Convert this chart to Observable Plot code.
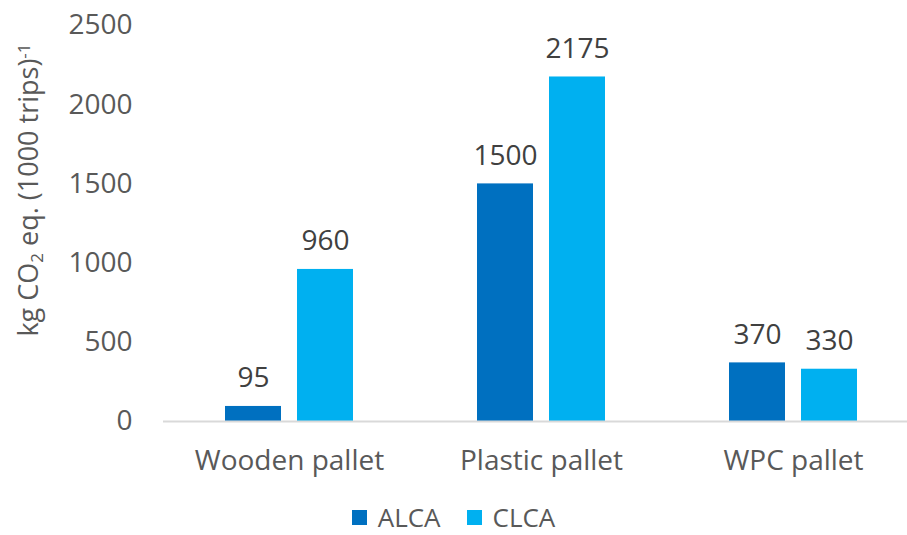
<!DOCTYPE html>
<html>
<head>
<meta charset="utf-8">
<script src="https://cdn.jsdelivr.net/npm/d3@7"></script>
<script src="https://cdn.jsdelivr.net/npm/@observablehq/plot@0.6"></script>
<style>
  html, body { margin: 0; padding: 0; background: #fff; overflow: hidden; }
  #chart { width: 907px; height: 535px; position: relative; font-family: "Open Sans", sans-serif; color: #595959; }
  .legend { position: absolute; left: 0; width: 907px; top: 502px; height: 30px; display: flex; justify-content: center; align-items: center; font-size: 26px; line-height: 30px; }
  .legend .item { display: flex; align-items: center; margin: 0 13px; }
  .legend .sw { width: 15px; height: 15px; margin-right: 11px; }
</style>
</head>
<body>
<div id="chart"></div>
<script>
// Greenhouse-gas emissions per 1000 pallet trips, by pallet type and LCA approach
const categories = ["Wooden pallet", "Plastic pallet", "WPC pallet"];
const series = ["ALCA", "CLCA"];
const alcaValues = [95, 1500, 370];
const clcaValues = [960, 2175, 330];
const yTicks = [0, 500, 1000, 1500, 2000, 2500];
const colors = ["#0070C0", "#00B0F0"];

const rows = categories.flatMap((c, i) => [
  {category: c, series: "ALCA", value: alcaValues[i]},
  {category: c, series: "CLCA", value: clcaValues[i]}
]);
// the two bars of a group sit either side of the category centre
const offsets = {ALCA: -36, CLCA: 36};

const marks = [];
for (const s of series) {
  const d = rows.filter(r => r.series === s);
  marks.push(Plot.barY(d, {x: "category", y: "value", fill: colors[series.indexOf(s)], dx: offsets[s]}));
  marks.push(Plot.text(d, {x: "category", y: "value", text: d => String(d.value), dx: offsets[s], dy: -19, lineAnchor: "bottom", fontSize: 28, fill: "#404040"}));
}
marks.push(Plot.ruleY([0], {stroke: "#d9d9d9", strokeWidth: 2}));

const plot = Plot.plot({
  width: 907,
  height: 490,
  marginTop: 25,
  marginBottom: 69,
  marginLeft: 163,
  marginRight: 0,
  style: {fontFamily: "Open Sans, sans-serif", fontSize: "28px", color: "#595959", background: "transparent", overflow: "visible"},
  x: {domain: categories, range: [163, 919], paddingInner: 0.778, paddingOuter: 0.389, tickSize: 0, tickPadding: 29, label: null},
  y: {domain: [0, 2500], ticks: yTicks, tickSize: 0, tickPadding: 31, label: null, tickFormat: d => String(d)},
  marks
});
document.getElementById("chart").appendChild(plot);

// rotated y-axis title with subscript and superscript
const svg = d3.select(plot);
const t = svg.append("text")
  .attr("transform", "translate(38,190) rotate(-90)")
  .attr("text-anchor", "middle")
  .attr("fill", "#595959")
  .style("font-size", "27px");
t.append("tspan").text("kg CO");
t.append("tspan").text("2").attr("baseline-shift", "-30%").style("font-size", "17px");
t.append("tspan").text(" eq. (1000 trips)");
t.append("tspan").text("-1").attr("baseline-shift", "45%").style("font-size", "17px");

// legend
const legend = d3.select("#chart").append("div").attr("class", "legend");
series.forEach((s, i) => {
  const item = legend.append("div").attr("class", "item");
  item.append("div").attr("class", "sw").style("background", colors[i]);
  item.append("span").text(s);
});
</script>
</body>
</html>
